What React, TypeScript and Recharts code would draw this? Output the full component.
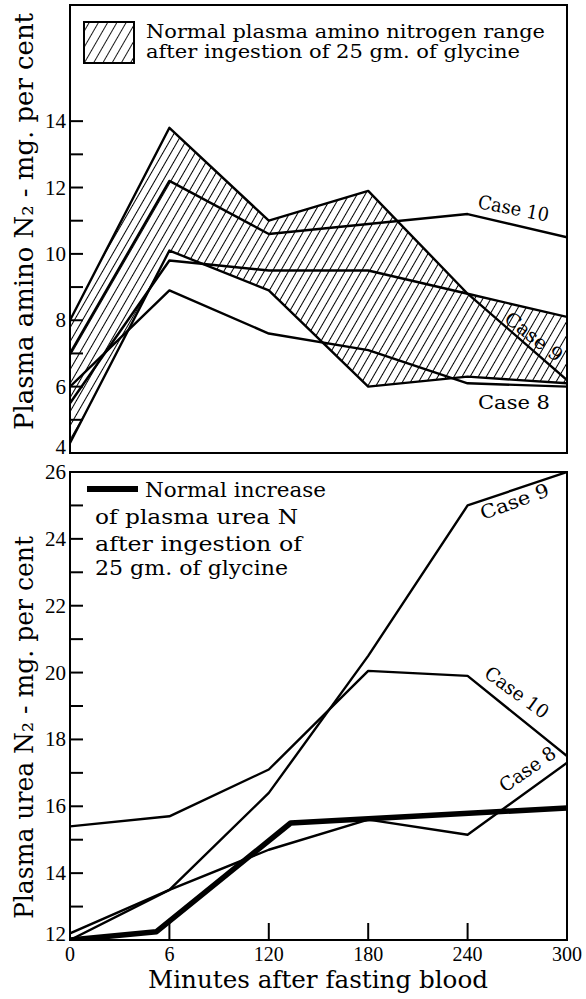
import { Area, ComposedChart, Line, ReferenceArea, XAxis, YAxis } from 'recharts'

const TIME_LABELS = ['0', '6', '120', '180', '240', '300']
const TIME_INDEX = [0, 1, 2, 3, 4, 5]

// plasma amino N2, mg. per cent
const AMINO_RANGE_LOW = [4.3, 10.1, 8.9, 6.0, 6.3, 6.1]
const AMINO_RANGE_HIGH = [8.0, 13.8, 11.0, 11.9, 8.8, 8.1]
const AMINO_CASE_8 = [6.0, 8.9, 7.6, 7.1, 6.1, 6.0]
const AMINO_CASE_9 = [5.5, 9.8, 9.5, 9.5, 8.8, 6.2]
const AMINO_CASE_10 = [7.0, 12.2, 10.6, 10.9, 11.2, 10.5]
const AMINO_TICKS = [4, 5, 6, 7, 8, 9, 10, 11, 12, 13, 14]

// plasma urea N2, mg. per cent
const UREA_CASE_8 = [12.2, 13.5, 14.7, 15.6, 15.15, 17.3]
const UREA_CASE_9 = [12.0, 13.5, 16.4, 20.5, 25.0, 26.0]
const UREA_CASE_10 = [15.4, 15.7, 17.1, 20.05, 19.9, 17.5]
const UREA_NORMAL_X = [0, 0.87, 2.22, 5]
const UREA_NORMAL = [12.0, 12.25, 15.5, 15.95]
const UREA_TICKS = [12, 13, 14, 15, 16, 17, 18, 19, 20, 21, 22, 23, 24, 25, 26]

const aminoRows = TIME_INDEX.map((x, i) => ({
  x,
  lo: AMINO_RANGE_LOW[i],
  hi: AMINO_RANGE_HIGH[i],
  c8: AMINO_CASE_8[i],
  c9: AMINO_CASE_9[i],
  c10: AMINO_CASE_10[i],
}))

const ureaRows = TIME_INDEX.map((x, i) => ({
  x,
  c8: UREA_CASE_8[i],
  c9: UREA_CASE_9[i],
  c10: UREA_CASE_10[i],
}))

const ureaNormalRows = UREA_NORMAL_X.map((x, i) => ({ x, normal: UREA_NORMAL[i] }))

const SERIF = '"DejaVu Serif", "Liberation Serif", serif'
const NUM_FONT = '"Liberation Serif", "DejaVu Serif", serif'
const INK = '#000'

const timeLabel = (v: number) => TIME_LABELS[v] ?? ''

const axisLine = { stroke: INK, strokeWidth: 2 }
const tickLine = { stroke: INK, strokeWidth: 2 }

// even values get a number, odd ones only the tick mark; the lowest label sits on the axis
function yTick(lowest: number) {
  return (props: { x: number; y: number; payload: { value: number } }) => {
    const v = props.payload.value
    if (v % 2 !== 0) return <g />
    return (
      <text
        dy={v === lowest ? 1 : 7}
        fill={INK}
        fontFamily={NUM_FONT}
        fontSize={21}
        textAnchor="end"
        x={props.x}
        y={props.y}
      >
        {v}
      </text>
    )
  }
}

function caseLine(key: string, width = 2.4) {
  return (
    <Line
      dataKey={key}
      dot={false}
      activeDot={false}
      isAnimationActive={false}
      stroke={INK}
      strokeLinejoin="round"
      strokeWidth={width}
      type="linear"
    />
  )
}

function AminoChart() {
  return (
    <ComposedChart data={aminoRows} height={470} margin={{ top: 5, right: 19, bottom: 17, left: 0 }} width={586}>
      <defs>
        <pattern height={7} id="amino-hatch" patternTransform="rotate(30)" patternUnits="userSpaceOnUse" width={7}>
          <line stroke={INK} strokeWidth={2} x1={0} x2={0} y1={0} y2={7} />
        </pattern>
      </defs>
      <XAxis
        allowDataOverflow
        axisLine={axisLine}
        dataKey="x"
        domain={[0, 5]}
        height={0}
        interval={0}
        tick={false}
        tickLine={tickLine}
        tickSize={-17}
        ticks={TIME_INDEX}
        type="number"
      />
      <YAxis
        allowDataOverflow
        axisLine={axisLine}
        domain={[4, 17.5]}
        interval={0}
        tick={yTick(4)}
        tickLine={tickLine}
        tickMargin={17}
        tickSize={-13}
        ticks={AMINO_TICKS}
        type="number"
        width={70}
      />
      <ReferenceArea fill="none" ifOverflow="visible" stroke={INK} strokeWidth={2} x1={0} x2={5} y1={4} y2={17.5} />
      <Area
        activeDot={false}
        dataKey={(row: { lo: number; hi: number }) => [row.lo, row.hi]}
        fill="url(#amino-hatch)"
        fillOpacity={1}
        isAnimationActive={false}
        stroke="none"
        type="linear"
      />
      {caseLine('hi')}
      {caseLine('lo')}
      {caseLine('c10')}
      {caseLine('c9')}
      {caseLine('c8')}
    </ComposedChart>
  )
}

function UreaChart() {
  return (
    <ComposedChart data={ureaRows} height={539} margin={{ top: 12, right: 19, bottom: 0, left: 0 }} width={586}>
      <XAxis
        allowDataOverflow
        axisLine={axisLine}
        dataKey="x"
        domain={[0, 5]}
        height={59}
        interval={0}
        tick={{ fill: INK, fontSize: 20, fontFamily: NUM_FONT }}
        tickFormatter={timeLabel}
        tickLine={tickLine}
        tickMargin={24}
        tickSize={-17}
        ticks={TIME_INDEX}
        type="number"
      />
      <YAxis
        allowDataOverflow
        axisLine={axisLine}
        domain={[12, 26]}
        interval={0}
        tick={yTick(12)}
        tickLine={tickLine}
        tickMargin={17}
        tickSize={-13}
        ticks={UREA_TICKS}
        type="number"
        width={70}
      />
      <ReferenceArea fill="none" ifOverflow="visible" stroke={INK} strokeWidth={2} x1={0} x2={5} y1={12} y2={26} />
      {caseLine('c10')}
      {caseLine('c9')}
      {caseLine('c8')}
      <Line
        activeDot={false}
        data={ureaNormalRows}
        dataKey="normal"
        dot={false}
        isAnimationActive={false}
        stroke={INK}
        strokeLinejoin="round"
        strokeWidth={5.5}
        type="linear"
      />
    </ComposedChart>
  )
}

function Overlay() {
  const txt = { fill: INK, fontFamily: SERIF }
  return (
    <svg height={999} style={{ position: 'absolute', left: 0, top: 0, pointerEvents: 'none' }} width={586}>
      <defs>
        <pattern height={8} id="legend-hatch" patternTransform="rotate(30)" patternUnits="userSpaceOnUse" width={8}>
          <line stroke={INK} strokeWidth={1.8} x1={0} x2={0} y1={0} y2={8} />
        </pattern>
      </defs>

      {/* top legend */}
      <rect fill="url(#legend-hatch)" height={41} stroke={INK} strokeWidth={2} width={50} x={84} y={22} />
      <text {...txt} fontSize={19} lengthAdjust="spacingAndGlyphs" textLength={399} x={146} y={38}>
        Normal plasma amino nitrogen range
      </text>
      <text {...txt} fontSize={19} lengthAdjust="spacingAndGlyphs" textLength={374} x={146} y={58}>
        after ingestion of 25 gm. of glycine
      </text>

      {/* bottom legend */}
      <line stroke={INK} strokeWidth={6} x1={87} x2={138} y1={489} y2={489} />
      <text {...txt} fontSize={20} lengthAdjust="spacingAndGlyphs" textLength={181} x={145} y={497}>
        Normal increase
      </text>
      <text {...txt} fontSize={20} lengthAdjust="spacingAndGlyphs" textLength={203} x={95} y={524}>
        of plasma urea N
      </text>
      <text {...txt} fontSize={20} lengthAdjust="spacingAndGlyphs" textLength={207} x={95} y={551}>
        after ingestion of
      </text>
      <text {...txt} fontSize={20} lengthAdjust="spacingAndGlyphs" textLength={193} x={95} y={575}>
        25 gm. of glycine
      </text>

      {/* axis titles */}
      <text {...txt} fontSize={26} lengthAdjust="spacingAndGlyphs" textLength={417} transform="translate(33 430) rotate(-90)">
        Plasma amino N₂ - mg. per cent
      </text>
      <text {...txt} fontSize={26} lengthAdjust="spacingAndGlyphs" textLength={383} transform="translate(33 919) rotate(-90)">
        Plasma urea N₂ - mg. per cent
      </text>
      <text {...txt} fontSize={25} lengthAdjust="spacingAndGlyphs" textLength={340} x={148} y={988}>
        Minutes after fasting blood
      </text>

      {/* case labels, top */}
      <text {...txt} fontSize={19} lengthAdjust="spacingAndGlyphs" textLength={72} transform="translate(477 208) rotate(11)">
        Case 10
      </text>
      <text {...txt} fontSize={19} lengthAdjust="spacingAndGlyphs" textLength={68} transform="translate(503 321) rotate(38)">
        Case 9
      </text>
      <text {...txt} fontSize={19} lengthAdjust="spacingAndGlyphs" textLength={72} x={478} y={409}>
        Case 8
      </text>

      {/* case labels, bottom */}
      <text {...txt} fontSize={19} lengthAdjust="spacingAndGlyphs" textLength={72} transform="translate(483 520) rotate(-20)">
        Case 9
      </text>
      <text {...txt} fontSize={19} lengthAdjust="spacingAndGlyphs" textLength={74} transform="translate(483 676) rotate(36)">
        Case 10
      </text>
      <text {...txt} fontSize={19} lengthAdjust="spacingAndGlyphs" textLength={64} transform="translate(505 793) rotate(-35)">
        Case 8
      </text>
    </svg>
  )
}

export default function App() {
  return (
    <div style={{ position: 'absolute', left: 0, top: 0, width: 586, height: 999, background: '#fff' }}>
      <div style={{ position: 'absolute', left: 0, top: 0 }}>
        <AminoChart />
      </div>
      <div style={{ position: 'absolute', left: 0, top: 460 }}>
        <UreaChart />
      </div>
      <Overlay />
    </div>
  )
}
